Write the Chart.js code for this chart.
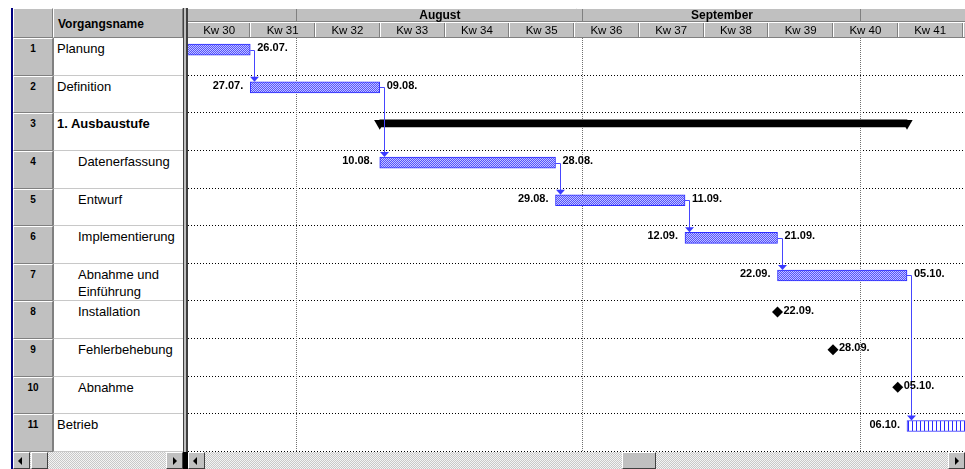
<!DOCTYPE html>
<html>
<head>
<meta charset="utf-8">
<script src="https://cdn.jsdelivr.net/npm/chart.js@4.4.0/dist/chart.umd.min.js"></script>
<style>
body { margin:0; background:#fff; width:965px; height:469px; overflow:hidden; position:relative; font-family:Arial,"Liberation Sans",sans-serif; }
.abs { position:absolute; box-sizing:border-box; }
.num { background:#c0c0c0; border-top:1px solid #fff; border-left:1px solid #fff; border-right:1px solid #808080; border-bottom:1px solid #808080; font-weight:bold; font-size:10px; text-align:center; padding-top:4px; }
.name { background:#fff; border-bottom:1px solid #c8c8c8; font-size:13px; line-height:17px; padding-top:2px; color:#000; }
.btn { background:#c0c0c0; border-top:1px solid #fff; border-left:1px solid #fff; border-right:1px solid #404040; border-bottom:1px solid #404040; }
.track { background:repeating-conic-gradient(#c8c8c8 0 25%, #f4f4f4 0 50%) 0 0/2px 2px; }
.arrL, .arrR { position:absolute; top:4px; width:0; height:0; border-top:4px solid transparent; border-bottom:4px solid transparent; }
.arrL { left:4px; border-right:4px solid #000; }
.arrR { left:6px; border-left:4px solid #000; }
</style>
</head>
<body>
<div id="table"></div>
<div class="abs" style="left:188px;top:0;width:777px;height:452px"><canvas id="gantt"></canvas></div>
<script>
// Vorgänge (MS Project Gantt, 1998)
var taskNames = ['Planung', 'Definition', '1. Ausbaustufe', 'Datenerfassung', 'Entwurf', 'Implementierung',
  'Abnahme und Einführung', 'Installation', 'Fehlerbehebung', 'Abnahme', 'Betrieb'];
var taskLevel = [0, 0, 0, 1, 1, 1, 1, 1, 1, 1, 0];
var taskKind = ['task', 'task', 'summary', 'task', 'task', 'task', 'task', 'milestone', 'milestone', 'milestone', 'ongoing'];
var taskStart = ['1998-07-13', '1998-07-27', '1998-08-10', '1998-08-10', '1998-08-29', '1998-09-12',
  '1998-09-22', '1998-09-22', '1998-09-28', '1998-10-05', '1998-10-06'];
var taskEnd = ['1998-07-26', '1998-08-09', '1998-10-05', '1998-08-28', '1998-09-11', '1998-09-21',
  '1998-10-05', '1998-09-22', '1998-09-28', '1998-10-05', '1998-11-30'];
var links = [[0, 1], [1, 3], [3, 4], [4, 5], [5, 6], [6, 10]];
var weekLabels = ['Kw 30', 'Kw 31', 'Kw 32', 'Kw 33', 'Kw 34', 'Kw 35', 'Kw 36', 'Kw 37', 'Kw 38', 'Kw 39', 'Kw 40', 'Kw 41', 'Kw 42'];
var monthNames = ['Juli', 'August', 'September', 'Oktober'];
var monthStarts = ['1998-07-01', '1998-08-01', '1998-09-01', '1998-10-01', '1998-11-01'];
var firstWeek = '1998-07-20';

function dayOf(s) {
  var p = s.split('-');
  return (Date.UTC(+p[0], p[1] - 1, +p[2]) - Date.UTC(1998, 6, 20)) / 86400000;
}
function fmt(s) {
  var p = s.split('-');
  return p[2] + '.' + p[1] + '.';
}

var ROW_TOP = 38, ROW_H = 414 / 11;

// left table
var html = '';
html += '<div class="abs" style="left:11px;top:8px;width:2px;height:461px;background:#000080"></div>';
html += '<div class="abs num" style="left:13px;top:8px;width:40px;height:30px"></div>';
html += '<div class="abs" style="left:53px;top:8px;width:130px;height:30px;background:#c0c0c0;border-top:1px solid #fff;border-left:1px solid #fff;border-right:1px solid #808080;border-bottom:1px solid #808080;font-weight:bold;font-size:12px;padding:8px 0 0 4px">Vorgangsname</div>';
taskNames.forEach(function (n, i) {
  var top = ROW_TOP + i * ROW_H;
  html += '<div class="abs num" style="left:13px;top:' + top + 'px;width:40px;height:' + ROW_H + 'px">' + (i + 1) + '</div>';
  var st = 'left:53px;top:' + top + 'px;width:130px;height:' + ROW_H + 'px;padding-left:' + (taskLevel[i] ? 24 : 3) + 'px;border-left:1px solid #808080;';
  if (taskKind[i] == 'summary') st += 'font-weight:bold;';
  html += '<div class="abs name" style="' + st + '">' + n + '</div>';
});
// splitter
html += '<div class="abs" style="left:183px;top:8px;width:5px;height:444px;background:#c0c0c0;border-left:1px solid #404040;border-right:2px solid #404040"></div>';
html += '<div class="abs" style="left:183px;top:452px;width:5px;height:17px;background:#000"></div>';
// scrollbars
html += '<div class="abs track" style="left:13px;top:452px;width:170px;height:17px"></div>';
html += '<div class="abs btn" style="left:13px;top:452px;width:17px;height:17px"><div class="arrL"></div></div>';
html += '<div class="abs btn" style="left:31px;top:452px;width:17px;height:17px"></div>';
html += '<div class="abs btn" style="left:166px;top:452px;width:17px;height:17px"><div class="arrR"></div></div>';
html += '<div class="abs track" style="left:188px;top:452px;width:777px;height:17px"></div>';
html += '<div class="abs btn" style="left:188px;top:452px;width:17px;height:17px"><div class="arrL"></div></div>';
html += '<div class="abs btn" style="left:622px;top:452px;width:34px;height:17px"></div>';
html += '<div class="abs btn" style="left:948px;top:452px;width:17px;height:17px"><div class="arrR"></div></div>';
document.getElementById('table').innerHTML = html;

// fills
var canvas = document.getElementById('gantt');
var cx = canvas.getContext('2d');
function makePattern(w, h, fn) {
  var c = document.createElement('canvas');
  c.width = w; c.height = h;
  var g = c.getContext('2d');
  for (var y = 0; y < h; y++) for (var x = 0; x < w; x++) {
    g.fillStyle = fn(x, y);
    g.fillRect(x, y, 1, 1);
  }
  return cx.createPattern(c, 'repeat');
}
var dither = makePattern(2, 2, function (x, y) { return (x + y) % 2 ? '#5252ff' : '#c4c4ff'; });
var stripes = makePattern(4, 1, function (x) { return x == 0 ? '#2a2aff' : '#ffffff'; });

var OFF_BAR = 0.31, OFF_SUM = 0.268, OFF_MS = 0.28;
var barData = [], sumData = [], sumEnds = [], msData = [];
taskNames.forEach(function (n, i) {
  var s = dayOf(taskStart[i]), e = dayOf(taskEnd[i]) + 1;
  if (taskKind[i] == 'task' || taskKind[i] == 'ongoing') barData.push({ x: [s, e], y: i + OFF_BAR, row: i });
  if (taskKind[i] == 'summary') {
    sumData.push({ x: [s, e], y: i + OFF_SUM });
    sumEnds.push({ x: s, y: i + OFF_SUM }, { x: e, y: i + OFF_SUM });
  }
  if (taskKind[i] == 'milestone') msData.push({ x: s, y: i + OFF_MS });
});

var viewMin = 0.27, viewMax = 84.27;

var ganttDecor = {
  id: 'ganttDecor',
  beforeDatasetsDraw: function (chart) {
    var c = chart.ctx, xs = chart.scales.x, ys = chart.scales.y, a = chart.chartArea;
    c.save();
    c.lineWidth = 1;
    c.strokeStyle = '#000';
    c.setLineDash([1, 2]);
    for (var i = 1; i <= taskNames.length; i++) {
      var y = Math.round(ys.getPixelForValue(i)) - 0.5;
      c.beginPath(); c.moveTo(a.left, y); c.lineTo(a.right, y); c.stroke();
    }
    c.strokeStyle = '#707070';
    c.setLineDash([1, 1]);
    monthStarts.forEach(function (m) {
      var x = Math.round(xs.getPixelForValue(dayOf(m))) - 0.5;
      if (x < a.left || x > a.right) return;
      c.beginPath(); c.moveTo(x, a.top); c.lineTo(x, a.bottom); c.stroke();
    });
    c.restore();
  },
  afterDatasetsDraw: function (chart) {
    var c = chart.ctx, xs = chart.scales.x, ys = chart.scales.y;
    c.save();
    // dependency arrows
    c.strokeStyle = '#4646ff';
    c.fillStyle = '#3a3aff';
    c.lineWidth = 1;
    links.forEach(function (l) {
      var a = l[0], b = l[1];
      var xe = xs.getPixelForValue(dayOf(taskEnd[a]) + 1);
      var ya = Math.round(ys.getPixelForValue(a + OFF_BAR)) + 0.5;
      var vx = Math.round(xs.getPixelForValue(dayOf(taskStart[b])) + 4) + 0.5;
      var top = ys.getPixelForValue(b + OFF_BAR) - 5.5;
      c.beginPath(); c.moveTo(xe, ya); c.lineTo(vx, ya); c.lineTo(vx, top - 4); c.stroke();
      c.beginPath(); c.moveTo(vx - 4.5, top - 5); c.lineTo(vx + 4.5, top - 5); c.lineTo(vx, top); c.closePath(); c.fill();
    });
    // date labels
    c.fillStyle = '#000';
    c.font = 'bold 11px "Liberation Sans", Arial';
    c.textBaseline = 'middle';
    taskNames.forEach(function (n, i) {
      var s = xs.getPixelForValue(dayOf(taskStart[i]));
      var e = xs.getPixelForValue(dayOf(taskEnd[i]) + 1);
      if (taskKind[i] == 'task' || taskKind[i] == 'ongoing') {
        var y = ys.getPixelForValue(i + OFF_BAR) - 1.5;
        c.textAlign = 'right'; c.fillText(fmt(taskStart[i]), s - 7, y);
        c.textAlign = 'left'; c.fillText(fmt(taskEnd[i]), e + 7, y);
      }
      if (taskKind[i] == 'milestone') {
        c.textAlign = 'left';
        c.fillText(fmt(taskStart[i]), s + 6, ys.getPixelForValue(i + OFF_MS) - 1.5);
      }
    });
    c.restore();
  },
  afterDraw: function (chart) {
    var c = chart.ctx, xs = chart.scales.x, a = chart.chartArea;
    c.save();
    c.fillStyle = '#c0c0c0';
    c.fillRect(a.left, 8, a.right - a.left, 30);
    c.lineWidth = 1;
    // month row
    c.strokeStyle = '#808080';
    c.beginPath(); c.moveTo(a.left, 21.5); c.lineTo(a.right, 21.5); c.stroke();
    c.strokeStyle = '#fff';
    c.beginPath(); c.moveTo(a.left, 8.5); c.lineTo(a.right, 8.5); c.moveTo(a.left, 22.5); c.lineTo(a.right, 22.5); c.stroke();
    c.font = 'bold 12px Arial, "Liberation Sans"';
    c.textAlign = 'center'; c.textBaseline = 'middle';
    monthNames.forEach(function (m, i) {
      var x0 = xs.getPixelForValue(dayOf(monthStarts[i]));
      var x1 = xs.getPixelForValue(dayOf(monthStarts[i + 1]));
      if (x1 >= a.left && x1 <= a.right) {
        c.strokeStyle = '#808080';
        c.beginPath(); c.moveTo(Math.round(x1) - 0.5, 9); c.lineTo(Math.round(x1) - 0.5, 21); c.stroke();
      }
      if (x0 >= a.left && x1 <= a.right) {
        c.fillStyle = '#000';
        c.fillText(m, (x0 + x1) / 2, 15.5);
      }
    });
    // week row
    c.font = '11.5px Arial, "Liberation Sans"';
    var w0 = dayOf(firstWeek);
    weekLabels.forEach(function (w, i) {
      var x0 = xs.getPixelForValue(w0 + 7 * i), x1 = xs.getPixelForValue(w0 + 7 * i + 7);
      var r = Math.round(x1) - 0.5;
      c.strokeStyle = '#808080';
      c.beginPath(); c.moveTo(r, 23); c.lineTo(r, 37); c.stroke();
      c.strokeStyle = '#fff';
      c.beginPath(); c.moveTo(r + 1, 23); c.lineTo(r + 1, 37); c.stroke();
      var cxm = (Math.max(x0, a.left) + Math.min(x1, a.right)) / 2;
      if (Math.min(x1, a.right) - Math.max(x0, a.left) > 40) {
        c.fillStyle = '#000';
        c.fillText(w, cxm, 30.5);
      }
    });
    c.strokeStyle = '#808080';
    c.beginPath(); c.moveTo(a.left, 37.5); c.lineTo(a.right, 37.5); c.stroke();
    c.restore();
  }
};

new Chart(canvas, {
  type: 'bar',
  data: {
    datasets: [
      {
        data: barData,
        grouped: false,
        barThickness: 11,
        maxBarThickness: 11,
        backgroundColor: function (ctx) {
          var r = ctx.raw;
          return r && taskKind[r.row] == 'ongoing' ? stripes : dither;
        },
        borderColor: '#2c2cff',
        borderWidth: 1,
        borderSkipped: false
      },
      {
        data: sumData,
        grouped: false,
        barThickness: 7,
        maxBarThickness: 7,
        backgroundColor: '#000',
        borderWidth: 0
      },
      {
        type: 'scatter',
        data: sumEnds,
        pointStyle: 'triangle',
        rotation: 180,
        pointRadius: 6.5,
        backgroundColor: '#000',
        borderWidth: 0
      },
      {
        type: 'scatter',
        data: msData,
        pointStyle: 'rectRot',
        pointRadius: 5.5,
        backgroundColor: '#000',
        borderWidth: 0
      }
    ]
  },
  options: {
    indexAxis: 'y',
    responsive: true,
    maintainAspectRatio: false,
    animation: false,
    events: [],
    layout: { autoPadding: false, padding: { top: 38, left: 0, right: 0, bottom: 0 } },
    scales: {
      x: { type: 'linear', min: viewMin, max: viewMax, display: false, offset: false, grid: { offset: false } },
      y: { type: 'linear', min: 0, max: 11, reverse: true, display: false, offset: false, grid: { offset: false } }
    },
    plugins: { legend: { display: false }, tooltip: { enabled: false } }
  },
  plugins: [ganttDecor]
});
</script>
</body>
</html>
